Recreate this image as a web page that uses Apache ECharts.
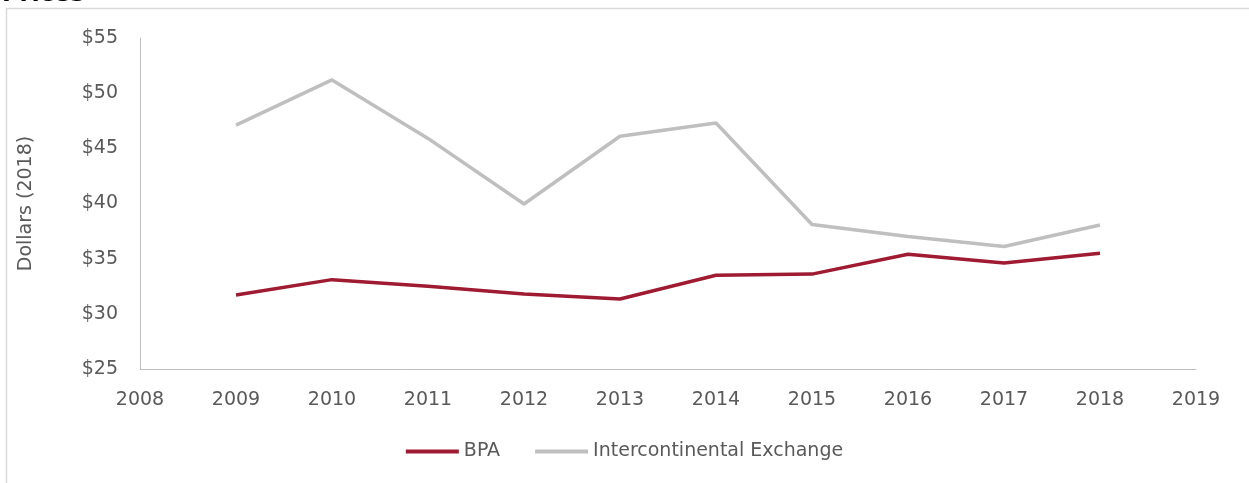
<!DOCTYPE html>
<html>
<head>
<meta charset="utf-8">
<script src="https://cdn.jsdelivr.net/npm/echarts@6/dist/echarts.min.js"></script>
<style>
  html, body { margin: 0; padding: 0; background: #fff; }
</style>
</head>
<body>
<div id="main" style="width:1249px;height:483px;"></div>
<script>
var years = [2009, 2010, 2011, 2012, 2013, 2014, 2015, 2016, 2017, 2018];
var bpa = [31.7, 33.1, 32.5, 31.8, 31.35, 33.5, 33.6, 35.4, 34.6, 35.5];
var ice = [47.1, 51.2, 45.9, 39.95, 46.1, 47.3, 38.1, 37.0, 36.1, 38.05];

function pairs(vals) {
  return years.map(function (y, i) { return [y, vals[i]]; });
}

var myChart = echarts.init(document.getElementById("main"));
var font = "'DejaVu Sans', sans-serif";
var option = {
  animation: false,
  textStyle: { fontFamily: font },
  graphic: [
    {
      type: "rect",
      shape: { x: 6.5, y: 8.5, width: 1400, height: 600 },
      style: { fill: "none", stroke: "#d9d9d9", lineWidth: 1.5 }
    },
    {
      type: "text",
      z: 100,
      x: 2,
      y: 7,
      style: {
        text: "Prices",
        fontSize: 24,
        fontWeight: "bold",
        fill: "#000",
        fontFamily: font,
        verticalAlign: "bottom"
      }
    }
  ],
  grid: { left: 140, right: 53, top: 38, bottom: 114 },
  legend: {
    bottom: 17,
    left: "center",
    itemWidth: 53,
    itemHeight: 4,
    itemGap: 35,
    icon: "rect",
    textStyle: { fontSize: 19, color: "#595959", fontFamily: font },
    data: ["BPA", "Intercontinental Exchange"]
  },
  xAxis: {
    type: "value",
    min: 2008,
    max: 2019,
    interval: 1,
    axisLine: { show: true, lineStyle: { color: "#bfbfbf", width: 1 } },
    axisTick: { show: false },
    splitLine: { show: false },
    axisLabel: { fontSize: 19, color: "#595959", margin: 22, formatter: function (v) { return String(v); } }
  },
  yAxis: {
    type: "value",
    min: 25,
    max: 55,
    interval: 5,
    name: "Dollars (2018)",
    nameLocation: "middle",
    nameGap: 104,
    nameTextStyle: { fontSize: 19, color: "#595959" },
    axisLine: { show: true, lineStyle: { color: "#bfbfbf", width: 1 } },
    axisTick: { show: false },
    splitLine: { show: false },
    axisLabel: { fontSize: 19, color: "#595959", margin: 22, formatter: "${value}" }
  },
  series: [
    {
      name: "BPA",
      type: "line",
      data: pairs(bpa),
      showSymbol: false,
      lineStyle: { color: "#9e1b32", width: 3.5 },
      itemStyle: { color: "#9e1b32" }
    },
    {
      name: "Intercontinental Exchange",
      type: "line",
      data: pairs(ice),
      showSymbol: false,
      lineStyle: { color: "#bfbfbf", width: 3.5 },
      itemStyle: { color: "#bfbfbf" }
    }
  ]
};
myChart.setOption(option);
</script>
</body>
</html>
